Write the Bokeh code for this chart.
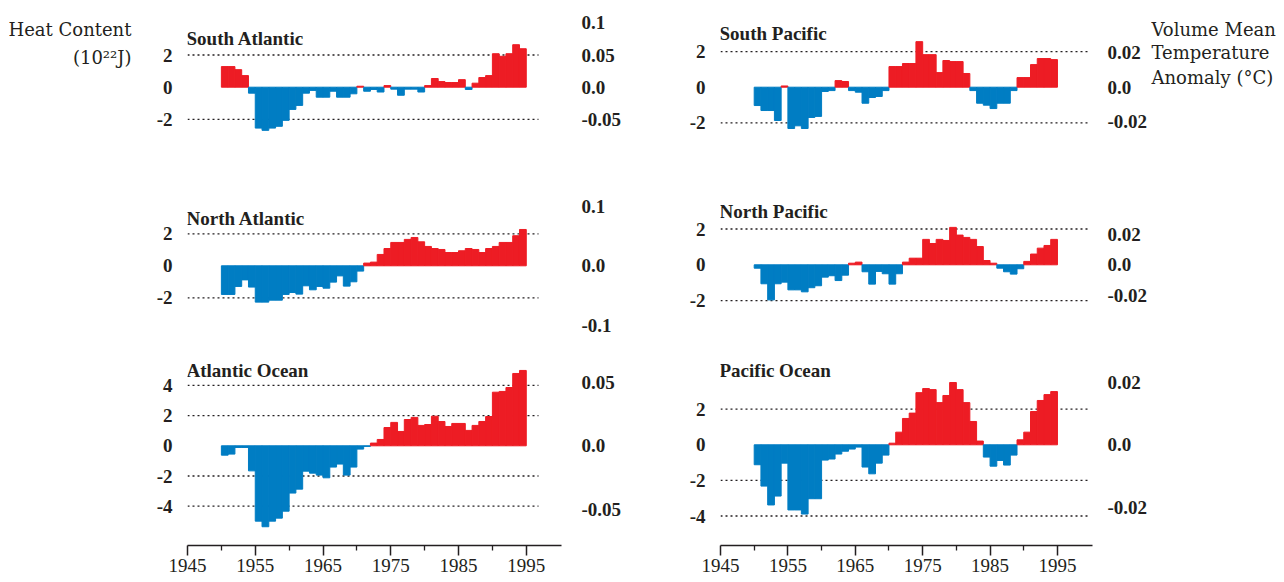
from bokeh.plotting import figure
from bokeh.models import (Range1d, LinearAxis, FixedTicker, CustomJSTickFormatter,
                          Label, ColumnDataSource)
from bokeh.layouts import row, column
from bokeh.embed import file_html
from bokeh.resources import INLINE

# ---------------- data (heat content, 10^22 J; running 5-yr composites) ----------------
years = list(range(1950, 1995))

south_atlantic = [1.28, 1.28, 1.09, 0.72, -0.37, -2.54, -2.68, -2.54, -2.43, -2.06,
                  -1.38, -1.13, -0.37, -0.20, -0.62, -0.62, -0.25, -0.62, -0.62, -0.41,
                  0.06, -0.25, -0.14, -0.30, 0.10, -0.12, -0.50, -0.12, -0.12, -0.30,
                  0.10, 0.54, 0.35, 0.29, 0.29, 0.47, -0.14, 0.25, 0.60, 0.72,
                  2.08, 1.92, 2.08, 2.64, 2.39]
north_atlantic = [-1.79, -1.79, -1.29, -0.88, -1.33, -2.27, -2.27, -2.15, -2.15, -1.79,
                  -1.67, -1.77, -1.25, -1.50, -1.29, -1.40, -1.02, -0.63, -1.27, -1.00,
                  -0.33, 0.17, 0.23, 0.71, 1.08, 1.46, 1.46, 1.65, 1.77, 1.50,
                  1.21, 1.08, 1.02, 0.83, 0.83, 0.94, 1.08, 1.02, 0.83, 1.08,
                  1.21, 1.46, 1.46, 1.88, 2.27]
atlantic_ocean = [-0.62, -0.55, -0.11, -0.11, -1.66, -4.99, -5.36, -4.99, -4.79, -4.33,
                  -3.13, -2.87, -1.68, -1.81, -1.94, -2.12, -1.41, -1.21, -1.94, -1.41,
                  -0.22, -0.04, 0.18, 0.42, 1.21, 1.55, 0.95, 1.74, 1.88, 1.35,
                  1.41, 1.96, 1.61, 1.28, 1.48, 1.48, 1.02, 1.35, 1.61, 1.94,
                  3.55, 3.60, 3.86, 4.79, 4.99]
south_pacific = [-1.03, -1.31, -1.31, -1.87, 0.07, -2.32, -2.17, -2.32, -1.70, -1.64,
                 -0.24, -0.19, 0.37, 0.32, -0.19, -0.28, -0.90, -0.58, -0.52, -0.19,
                 1.16, 1.16, 1.33, 1.33, 2.56, 1.83, 1.83, 0.82, 1.50, 1.44,
                 1.44, 0.77, -0.19, -0.90, -1.01, -1.20, -0.90, -0.90, -0.19, 0.54,
                 0.54, 1.27, 1.61, 1.61, 1.55]
north_pacific = [-0.19, -1.06, -1.96, -1.06, -0.97, -1.40, -1.40, -1.51, -1.28, -1.17,
                 -0.69, -0.61, -0.88, -0.58, 0.09, 0.15, -0.39, -1.08, -0.37, -0.50,
                 -1.08, -0.50, 0.15, 0.37, 0.37, 1.42, 1.19, 1.42, 1.36, 2.09,
                 1.66, 1.53, 1.42, 1.02, 0.24, 0.09, -0.19, -0.39, -0.52, -0.22,
                 0.19, 0.60, 0.93, 1.08, 1.42]
pacific_ocean = [-1.12, -2.32, -3.38, -2.88, -1.03, -3.66, -3.66, -3.89, -3.03, -3.03,
                 -0.86, -0.80, -0.52, -0.36, -0.24, -0.13, -1.25, -1.63, -1.03, -0.58,
                 0.09, 0.71, 1.48, 1.78, 2.93, 3.16, 3.10, 2.37, 2.77, 3.50,
                 3.10, 2.37, 1.31, 0.21, -0.69, -1.20, -0.88, -1.14, -0.58, 0.28,
                 0.71, 1.87, 2.49, 2.82, 2.99]

panel_titles = ["South Atlantic", "North Atlantic", "Atlantic Ocean",
                "South Pacific", "North Pacific", "Pacific Ocean"]

x_ticks = [1945, 1955, 1965, 1975, 1985, 1995]
x_minor_ticks = [1950, 1960, 1970, 1980, 1990]

heat_ticks = {
    "South Atlantic": [-2, 0, 2], "North Atlantic": [-2, 0, 2],
    "Atlantic Ocean": [-4, -2, 0, 2, 4],
    "South Pacific": [-2, 0, 2], "North Pacific": [-2, 0, 2],
    "Pacific Ocean": [-4, -2, 0, 2],
}
grid_levels = {
    "South Atlantic": [-2, 2], "North Atlantic": [-2, 2],
    "Atlantic Ocean": [-4, -2, 2, 4],
    "South Pacific": [-2, 2], "North Pacific": [-2, 2],
    "Pacific Ocean": [-4, -2, 2],
}
temp_ticks = {
    "South Atlantic": [-0.05, 0.0, 0.05, 0.1], "North Atlantic": [-0.1, 0.0, 0.1],
    "Atlantic Ocean": [-0.05, 0.0, 0.05],
    "South Pacific": [-0.02, 0.0, 0.02], "North Pacific": [-0.02, 0.0, 0.02],
    "Pacific Ocean": [-0.02, 0.0, 0.02],
}
# volume mean temperature anomaly (deg C) per 10^22 J for each basin
temp_per_heat = {
    "South Atlantic": 0.025, "North Atlantic": 0.0269, "Atlantic Ocean": 0.0119,
    "South Pacific": 0.0103, "North Pacific": 0.0117, "Pacific Ocean": 0.0057,
}
series = {
    "South Atlantic": south_atlantic, "North Atlantic": north_atlantic,
    "Atlantic Ocean": atlantic_ocean, "South Pacific": south_pacific,
    "North Pacific": north_pacific, "Pacific Ocean": pacific_ocean,
}
left_header = ["Heat Content", "(10\u00b2\u00b2J)"]
right_header = ["Volume Mean", "Temperature", "Anomaly (\u00b0C)"]

# ---------------- style / layout (pixels) ----------------
RED = "#ed1c24"
BLUE = "#007dc3"
INK = "#231f20"
SERIF = "Liberation Serif"
HEAD_FONT = "DejaVu Serif"
X_START, X_END = 1945, 2000.2

LEFT_HEAD_W = 140
RIGHT_HEAD_X = 1150
TOTAL_W, TOTAL_H = 1284, 582

# absolute pixel geometry of each column of panels
cols = {
    "left": dict(x0=LEFT_HEAD_W, x1=640, frame_left=187, frame_right=561,
                 grid_end_px=538, r_standoff=14),
    "right": dict(x0=640, x1=RIGHT_HEAD_X, frame_left=720, frame_right=1093,
                  grid_end_px=1091, r_standoff=9),
}
rows_px = [dict(top=0, height=150, bottom_border=0),
           dict(top=150, height=190, bottom_border=0),
           dict(top=340, height=242, bottom_border=37)]

# name: (column, row, zero line px, px per 10^22 J, title px)
panel_px = {
    "South Atlantic": ("left", 0, 86.7, 16.1, (186, 38)),
    "North Atlantic": ("left", 1, 265.3, 16.0, (186, 218)),
    "Atlantic Ocean": ("left", 2, 445.3, 15.1, (186, 370)),
    "South Pacific": ("right", 0, 86.7, 17.8, (719, 33)),
    "North Pacific": ("right", 1, 264.3, 17.9, (719, 211)),
    "Pacific Ocean": ("right", 2, 444.3, 17.8, (719, 370)),
}


def make_panel(name):
    colname, r, zero_px, ppu, (tx, ty) = panel_px[name]
    c = cols[colname]
    rw = rows_px[r]
    frame_w = c["frame_right"] - c["frame_left"]
    ppy = frame_w / (X_END - X_START)
    frame_h = rw["height"] - rw["bottom_border"]
    zero_local = zero_px - rw["top"]
    y_end = zero_local / ppu
    y_start = -(frame_h - zero_local) / ppu

    def to_x(px):
        return X_START + (px - c["frame_left"]) / ppy

    def to_y(py):
        return (zero_px - py) / ppu

    show_x = r == 2
    p = figure(width=c["x1"] - c["x0"], height=rw["height"],
               x_range=Range1d(X_START, X_END), y_range=Range1d(y_start, y_end),
               output_backend="svg", toolbar_location=None,
               x_axis_location="below" if show_x else None, y_axis_location=None,
               min_border_left=c["frame_left"] - c["x0"],
               min_border_right=c["x1"] - c["frame_right"],
               min_border_top=0, min_border_bottom=rw["bottom_border"],
               outline_line_color=None, border_fill_color="white",
               background_fill_color="white")
    p.grid.visible = False

    # dotted reference levels
    lv = grid_levels[name]
    p.segment(x0=[X_START] * len(lv), x1=[to_x(c["grid_end_px"])] * len(lv),
              y0=lv, y1=lv, line_color=INK, line_width=1.3, line_dash="2 3")

    vals = series[name]
    src = ColumnDataSource(dict(
        x=[yr + 0.5 for yr in years], top=vals,
        color=[RED if v > 0 else BLUE for v in vals]))
    p.vbar(x="x", top="top", bottom=0, width=1.0, source=src,
           fill_color="color", line_color="color", line_width=1)

    # left axis: heat content
    lax = LinearAxis(ticker=FixedTicker(ticks=heat_ticks[name]),
                     formatter=CustomJSTickFormatter(code="return tick.toFixed(0);"))
    # right axis: temperature anomaly
    f = temp_per_heat[name]
    p.extra_y_ranges = {"temp": Range1d(y_start * f, y_end * f)}
    rax = LinearAxis(y_range_name="temp", ticker=FixedTicker(ticks=temp_ticks[name]),
                     formatter=CustomJSTickFormatter(
                         code="if (Math.abs(tick) < 1e-9) { return '0.0'; } "
                              "return String(Math.round(tick * 1000) / 1000);"))
    for ax, standoff in ((lax, 9), (rax, c["r_standoff"])):
        ax.axis_line_color = None
        ax.major_tick_line_color = None
        ax.minor_tick_line_color = None
        ax.major_label_text_font = SERIF
        ax.major_label_text_font_style = "bold"
        ax.major_label_text_font_size = "19px"
        ax.major_label_text_color = INK
        ax.major_label_standoff = standoff
    p.add_layout(lax, "left")
    p.add_layout(rax, "right")

    if show_x:
        xa = p.xaxis[0]
        xa.ticker = FixedTicker(ticks=x_ticks, minor_ticks=x_minor_ticks)
        xa.axis_line_color = INK
        xa.axis_line_width = 1.5
        xa.major_tick_line_color = INK
        xa.major_tick_line_width = 1.5
        xa.major_tick_in = 0
        xa.major_tick_out = 10
        xa.minor_tick_line_color = INK
        xa.minor_tick_line_width = 1.3
        xa.minor_tick_in = 0
        xa.minor_tick_out = 5
        xa.major_label_text_font = SERIF
        xa.major_label_text_font_size = "19px"
        xa.major_label_text_color = INK
        xa.major_label_standoff = 3

    p.add_layout(Label(x=to_x(tx), y=to_y(ty), text=name, text_font=SERIF,
                       text_font_style="bold", text_font_size="19px",
                       text_color=INK, text_baseline="middle", text_align="left"))
    return p


def header_fig(width, lines):
    """A blank pixel-coordinate figure that only carries header text."""
    h = figure(width=width, height=TOTAL_H, x_range=Range1d(0, width),
               y_range=Range1d(TOTAL_H, 0), output_backend="svg", toolbar_location=None,
               x_axis_location=None, y_axis_location=None,
               min_border_left=0, min_border_right=0, min_border_top=0, min_border_bottom=0,
               outline_line_color=None, border_fill_color="white",
               background_fill_color="white")
    h.grid.visible = False
    for text, px, py, align in lines:
        h.add_layout(Label(x=px, y=py, text=text, text_font=HEAD_FONT,
                           text_font_size="18px", text_color=INK,
                           text_baseline="middle", text_align=align))
    return h


figs = {nm: make_panel(nm) for nm in panel_titles}

left_head = header_fig(LEFT_HEAD_W, [(left_header[0], 8, 29, "left"),
                                     (left_header[1], 131, 57, "right")])
right_head = header_fig(TOTAL_W - RIGHT_HEAD_X, [(right_header[0], 1, 29, "left"),
                                                 (right_header[1], 1, 52, "left"),
                                                 (right_header[2], 1, 77, "left")])

layout = row(left_head,
             column(figs["South Atlantic"], figs["North Atlantic"], figs["Atlantic Ocean"], spacing=0),
             column(figs["South Pacific"], figs["North Pacific"], figs["Pacific Ocean"], spacing=0),
             right_head,
             spacing=0)

open("out.html", "w").write(file_html(layout, INLINE))
